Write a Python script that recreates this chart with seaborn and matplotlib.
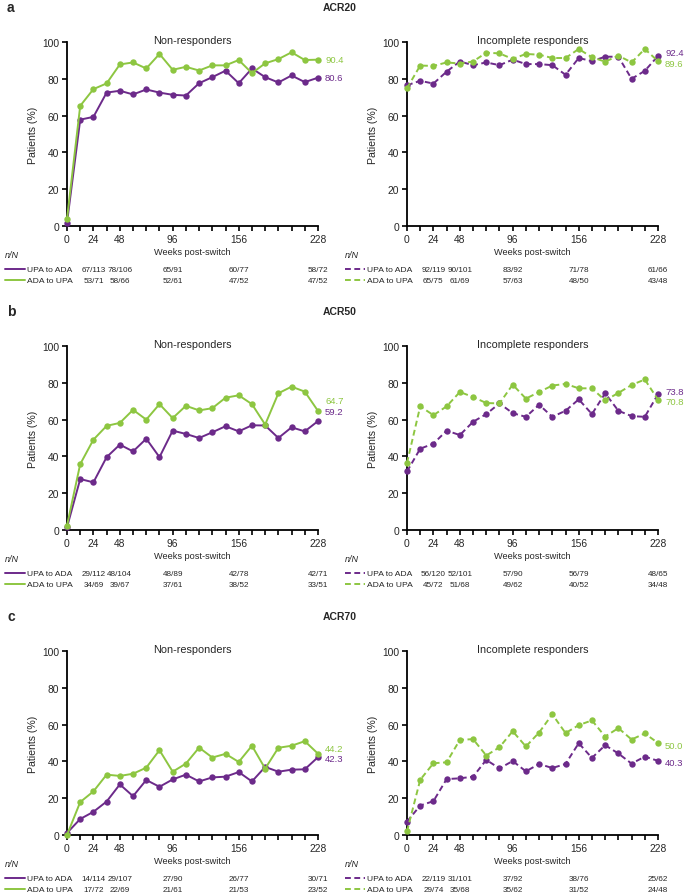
import matplotlib.pyplot as plt
import pandas as pd
import seaborn as sns

# x categories (weeks post-switch) and tick labels
weeks = [0, 12, 24, 36, 48, 60, 72, 84, 96, 108, 120, 132, 144, 156, 168, 180, 192, 204, 216, 228]
week_labels = ['0', '', '24', '', '48', '', '', '', '96', '', '', '', '', '156', '', '', '', '', '', '228']
groups = ['UPA to ADA', 'ADA to UPA']

# ACR20 (% patients)
acr20_nr_upa = [1.8, 57.8, 59.3, 72.5, 73.5, 71.5, 74.2, 72.5, 71.3, 70.9, 77.6, 80.9, 84.4, 77.6, 85.6, 80.9, 78.0, 81.8, 78.2, 80.6]
acr20_nr_ada = [3.8, 65.3, 74.4, 77.5, 87.8, 88.9, 85.6, 93.5, 84.9, 86.5, 84.5, 87.3, 87.3, 90.2, 83.1, 88.4, 90.7, 94.4, 90.2, 90.4]
acr20_ir_upa = [76.5, 78.9, 77.4, 83.9, 89.4, 87.4, 88.9, 87.4, 90.4, 88.0, 88.0, 87.4, 82.2, 91.3, 89.6, 92.0, 92.0, 80.0, 84.3, 92.4]
acr20_ir_ada = [74.9, 87.2, 87.0, 88.9, 88.3, 89.4, 94.2, 93.8, 90.8, 93.5, 93.1, 91.3, 91.3, 96.2, 91.7, 89.3, 92.6, 88.9, 96.2, 89.6]

# ACR50
acr50_nr_upa = [1.5, 27.7, 25.9, 39.6, 46.4, 42.7, 49.6, 39.6, 54.0, 52.2, 50.0, 53.1, 56.4, 53.6, 56.9, 56.8, 50.0, 55.8, 53.6, 59.2]
acr50_nr_ada = [2.4, 35.8, 49.1, 56.6, 58.2, 65.3, 60.0, 68.4, 60.8, 67.5, 65.0, 66.2, 71.9, 73.2, 68.4, 57.3, 74.3, 77.9, 75.2, 64.7]
acr50_ir_upa = [31.8, 44.2, 46.9, 54.0, 51.6, 58.8, 63.0, 68.8, 63.5, 61.5, 68.1, 61.5, 64.8, 71.0, 63.0, 74.3, 64.8, 61.9, 61.5, 73.8]
acr50_ir_ada = [36.5, 67.2, 62.4, 67.2, 75.0, 72.3, 69.0, 68.8, 79.0, 71.4, 75.0, 78.5, 79.4, 77.0, 77.0, 70.4, 74.5, 78.8, 81.8, 70.8]

# ACR70
acr70_nr_upa = [1.1, 8.7, 12.6, 18.2, 27.5, 21.1, 29.9, 26.2, 30.2, 32.8, 29.1, 31.3, 31.7, 34.2, 29.1, 37.0, 34.4, 35.5, 35.7, 42.3]
acr70_nr_ada = [0.0, 17.9, 23.7, 32.8, 32.1, 33.3, 36.6, 46.1, 34.4, 38.8, 47.5, 42.1, 44.1, 39.7, 48.5, 36.1, 47.4, 48.5, 51.0, 44.2]
acr70_ir_upa = [7.3, 16.0, 18.4, 30.4, 30.8, 31.7, 40.8, 36.2, 40.2, 34.6, 38.6, 36.4, 38.6, 49.9, 41.9, 48.8, 44.3, 38.8, 42.6, 40.3]
acr70_ir_ada = [2.0, 30.0, 39.0, 39.5, 51.7, 52.1, 43.2, 47.7, 56.4, 48.1, 55.7, 65.6, 55.4, 59.7, 62.3, 53.5, 58.1, 51.9, 55.2, 50.0]

# n/N table
nn_weeks = [24, 48, 96, 156, 228]
acr20_nr_nn_upa = ['67/113', '78/106', '65/91', '60/77', '58/72']
acr20_nr_nn_ada = ['53/71', '58/66', '52/61', '47/52', '47/52']
acr20_ir_nn_upa = ['92/119', '90/101', '83/92', '71/78', '61/66']
acr20_ir_nn_ada = ['65/75', '61/69', '57/63', '48/50', '43/48']
acr50_nr_nn_upa = ['29/112', '48/104', '48/89', '42/78', '42/71']
acr50_nr_nn_ada = ['34/69', '39/67', '37/61', '38/52', '33/51']
acr50_ir_nn_upa = ['56/120', '52/101', '57/90', '56/79', '48/65']
acr50_ir_nn_ada = ['45/72', '51/68', '49/62', '40/52', '34/48']
acr70_nr_nn_upa = ['14/114', '29/107', '27/90', '26/77', '30/71']
acr70_nr_nn_ada = ['17/72', '22/69', '21/61', '21/53', '23/52']
acr70_ir_nn_upa = ['22/119', '31/101', '37/92', '38/76', '25/62']
acr70_ir_nn_ada = ['29/74', '35/68', '35/62', '31/52', '24/48']

purple = '#6C2A8A'
green = '#8DC641'

sns.set_style('ticks')
plt.rcParams['font.family'] = ['Liberation Sans', 'DejaVu Sans']

panels = [
    ('a', 'ACR20',
     [(acr20_nr_upa, acr20_nr_ada, acr20_nr_nn_upa, acr20_nr_nn_ada),
      (acr20_ir_upa, acr20_ir_ada, acr20_ir_nn_upa, acr20_ir_nn_ada)]),
    ('b', 'ACR50',
     [(acr50_nr_upa, acr50_nr_ada, acr50_nr_nn_upa, acr50_nr_nn_ada),
      (acr50_ir_upa, acr50_ir_ada, acr50_ir_nn_upa, acr50_ir_nn_ada)]),
    ('c', 'ACR70',
     [(acr70_nr_upa, acr70_nr_ada, acr70_nr_nn_upa, acr70_nr_nn_ada),
      (acr70_ir_upa, acr70_ir_ada, acr70_ir_nn_upa, acr70_ir_nn_ada)]),
]
# pixel offsets for the end-value labels: [row][col] -> (upa, ada)
label_offsets = [[(0, 0), (3, -2)], [(10, 10), (3, -2)], [(-1, 5), (-2, -3)]]
# y pixel of the 100 line for each row
row_tops = [43, 347, 652]
col_titles = ['Non-responders', 'Incomplete responders']
col_lefts = [67, 407]

W, H = 685, 895
fig = plt.figure(figsize=(W / 100, H / 100), dpi=100)

for r, (letter, acr, cols) in enumerate(panels):
    ytop = row_tops[r] - 35
    fig.text(7 / W, 1 - ytop / H, letter, fontsize=10, fontweight='bold', va='center', ha='left')
    fig.text(340 / W, 1 - ytop / H, acr, fontsize=7.5, fontweight='bold', va='center', ha='center')
    for c, (upa, ada, nn_upa, nn_ada) in enumerate(cols):
        ax = fig.add_axes([col_lefts[c] / W, 1 - (row_tops[r] + 184) / H, 251 / W, 184 / H])
        ls = '-' if c == 0 else (0, (3, 1.8))
        df = pd.DataFrame({
            'week': weeks * 2,
            'pct': upa + ada,
            'group': [groups[0]] * len(weeks) + [groups[1]] * len(weeks),
        })
        for g, col in zip(groups, [purple, green]):
            sns.lineplot(data=df[df['group'] == g], x='week', y='pct', color=col, marker='o',
                         markersize=4.6, markeredgewidth=0, linewidth=1.4, linestyle=ls,
                         clip_on=False, ax=ax, legend=False, zorder=3)
        ax.set_xlim(0, 228)
        ax.set_ylim(0, 100)
        ax.set_xticks(weeks)
        ax.set_xticklabels(week_labels)
        ax.set_yticks([0, 20, 40, 60, 80, 100])
        ax.tick_params(labelsize=7.4, length=3.6, width=1.2, pad=2, color='black')
        for s in ['left', 'bottom']:
            ax.spines[s].set_linewidth(1.3)
            ax.spines[s].set_color('black')
        sns.despine(ax=ax)
        ax.set_xlabel('Weeks post-switch', fontsize=6.6, labelpad=2.5)
        ax.set_ylabel('Patients (%)', fontsize=7.6, labelpad=3)
        ax.text(0.5, 1.013, col_titles[c], transform=ax.transAxes, fontsize=7.8,
                ha='center', va='center')

        # end-value labels
        for k, (vals, col) in enumerate(zip([upa, ada], [purple, green])):
            dy = label_offsets[r][c][k]
            ax.annotate(f'{vals[-1]:.1f}', xy=(weeks[-1], vals[-1]), xytext=(7, dy),
                        textcoords='offset pixels', color=col, fontsize=6.8, va='center',
                        ha='left', annotation_clip=False)

        # n/N table
        xt = ax.get_xaxis_transform()
        ax.text(-0.247, -0.155, 'n/N', transform=ax.transAxes, fontsize=6.5, style='italic',
                va='center', ha='left')
        for k, (g, col, nn) in enumerate(zip(groups, [purple, green], [nn_upa, nn_ada])):
            yy = -0.235 - k * 0.06
            ax.plot([-0.247, -0.167], [yy, yy], transform=ax.transAxes, color=col,
                    linewidth=1.4, linestyle=ls, clip_on=False)
            ax.text(-0.159, yy, g, transform=ax.transAxes, fontsize=6.1, va='center', ha='left')
            for w, s in zip(nn_weeks, nn):
                ax.text(w, yy, s, transform=xt, fontsize=5.9, va='center', ha='center')

fig.savefig('out.png', dpi=100)
